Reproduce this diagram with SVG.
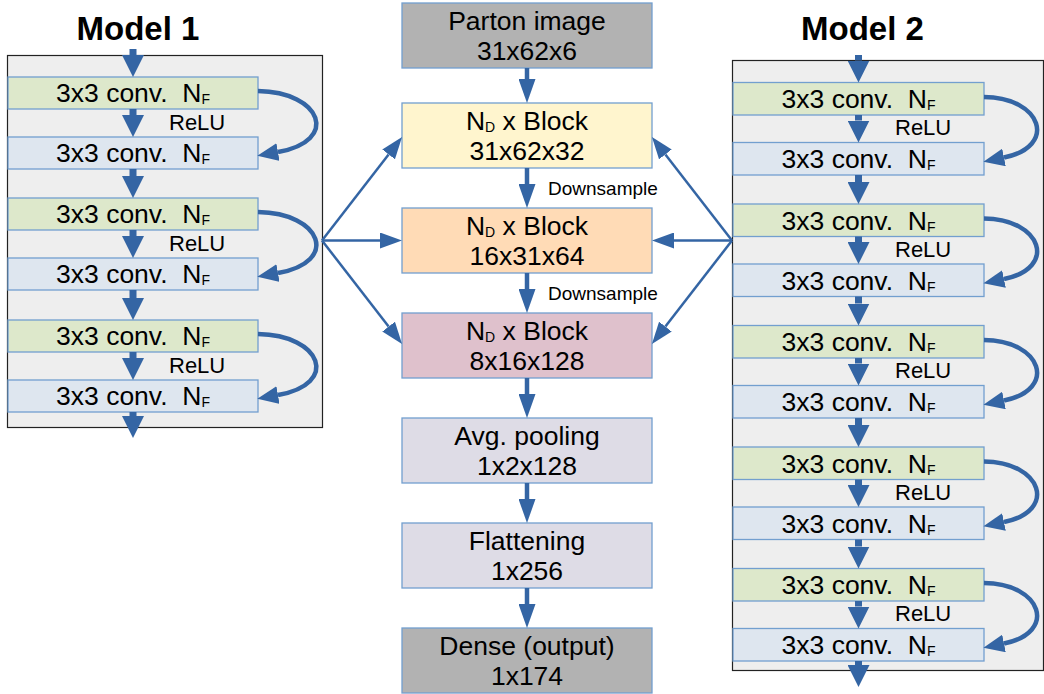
<svg xmlns="http://www.w3.org/2000/svg" width="1044" height="694" viewBox="0 0 1044 694">
<defs>
<style>
text{font-family:"Liberation Sans",Arial,sans-serif;fill:#000;white-space:pre}
.t{font-size:26.5px;text-anchor:middle}
.sub{font-size:14px}
.relu{font-size:22px}
.ds{font-size:19px}
.title{font-size:33px;font-weight:bold;text-anchor:middle}
.panel{fill:#eeeeee;stroke:#222;stroke-width:1.2}
.box{stroke:#729fcf;stroke-width:1.3}
.g{fill:#dde8cb}
.b{fill:#dee6ef}
.vm{stroke:#3465a4;stroke-width:7;fill:none;marker-end:url(#mh)}
.vc{stroke:#3465a4;stroke-width:4.5;fill:none;marker-end:url(#mc)}
.fan{stroke:#3465a4;stroke-width:2.5;fill:none;marker-end:url(#mf)}
.cur{stroke:#3465a4;stroke-width:4.5;fill:none;marker-end:url(#mr)}
</style>
<marker id="mh" markerUnits="userSpaceOnUse" markerWidth="22" markerHeight="22" viewBox="0 0 22 22" refX="0" refY="11" orient="auto"><path d="M0,0 L22,11 L0,22z" fill="#3465a4"/></marker>
<marker id="mc" markerUnits="userSpaceOnUse" markerWidth="24" markerHeight="17" viewBox="0 0 24 17" refX="0" refY="8.5" orient="auto"><path d="M0,0 L24,8.5 L0,17z" fill="#3465a4"/></marker>
<marker id="mf" markerUnits="userSpaceOnUse" markerWidth="22" markerHeight="16" viewBox="0 0 22 16" refX="0" refY="8" orient="auto"><path d="M0,0 L22,8 L0,16z" fill="#3465a4"/></marker>
<marker id="mr" markerUnits="userSpaceOnUse" markerWidth="21" markerHeight="18" viewBox="0 0 21 18" refX="0" refY="9" orient="auto"><path d="M0,0 L21,9 L0,18z" fill="#3465a4"/></marker>
</defs>
<rect width="1044" height="694" fill="#fff"/>

<g id="model1">
<text class="title" x="138" y="40">Model 1</text>
<rect class="panel" x="7.5" y="55.5" width="315" height="372"/>
<g id="m1-g1"><rect class="box g" x="8" y="77" width="250" height="32"/><text class="t" x="133" y="102">3x3 conv.  N<tspan class="sub" dy="2">F</tspan></text></g>
<g id="m1-b1"><rect class="box b" x="8" y="137" width="250" height="32"/><text class="t" x="133" y="162">3x3 conv.  N<tspan class="sub" dy="2">F</tspan></text></g>
<g id="m1-g2"><rect class="box g" x="8" y="198" width="250" height="32"/><text class="t" x="133" y="223">3x3 conv.  N<tspan class="sub" dy="2">F</tspan></text></g>
<g id="m1-b2"><rect class="box b" x="8" y="258" width="250" height="32"/><text class="t" x="133" y="283">3x3 conv.  N<tspan class="sub" dy="2">F</tspan></text></g>
<g id="m1-g3"><rect class="box g" x="8" y="320" width="250" height="32"/><text class="t" x="133" y="345">3x3 conv.  N<tspan class="sub" dy="2">F</tspan></text></g>
<g id="m1-b3"><rect class="box b" x="8" y="380" width="250" height="32"/><text class="t" x="133" y="405">3x3 conv.  N<tspan class="sub" dy="2">F</tspan></text></g>
<text class="relu" x="169" y="129.5">ReLU</text>
<text class="relu" x="169" y="251">ReLU</text>
<text class="relu" x="169" y="373">ReLU</text>
</g>

<g id="model2">
<text class="title" x="862.5" y="40">Model 2</text>
<rect class="panel" x="732.5" y="60.5" width="311" height="610"/>
<g id="m2-g1"><rect class="box g" x="733" y="82.5" width="251" height="32.5"/><text class="t" x="858.5" y="108">3x3 conv.  N<tspan class="sub" dy="2">F</tspan></text></g>
<g id="m2-b1"><rect class="box b" x="733" y="142.5" width="251" height="32.5"/><text class="t" x="858.5" y="168">3x3 conv.  N<tspan class="sub" dy="2">F</tspan></text></g>
<g id="m2-g2"><rect class="box g" x="733" y="204" width="251" height="32.5"/><text class="t" x="858.5" y="229.5">3x3 conv.  N<tspan class="sub" dy="2">F</tspan></text></g>
<g id="m2-b2"><rect class="box b" x="733" y="264" width="251" height="32.5"/><text class="t" x="858.5" y="289.5">3x3 conv.  N<tspan class="sub" dy="2">F</tspan></text></g>
<g id="m2-g3"><rect class="box g" x="733" y="325.5" width="251" height="32.5"/><text class="t" x="858.5" y="351">3x3 conv.  N<tspan class="sub" dy="2">F</tspan></text></g>
<g id="m2-b3"><rect class="box b" x="733" y="385.5" width="251" height="32.5"/><text class="t" x="858.5" y="411">3x3 conv.  N<tspan class="sub" dy="2">F</tspan></text></g>
<g id="m2-g4"><rect class="box g" x="733" y="447" width="251" height="32.5"/><text class="t" x="858.5" y="472.5">3x3 conv.  N<tspan class="sub" dy="2">F</tspan></text></g>
<g id="m2-b4"><rect class="box b" x="733" y="507" width="251" height="32.5"/><text class="t" x="858.5" y="532.5">3x3 conv.  N<tspan class="sub" dy="2">F</tspan></text></g>
<g id="m2-g5"><rect class="box g" x="733" y="568.5" width="251" height="32.5"/><text class="t" x="858.5" y="594">3x3 conv.  N<tspan class="sub" dy="2">F</tspan></text></g>
<g id="m2-b5"><rect class="box b" x="733" y="628.5" width="251" height="32.5"/><text class="t" x="858.5" y="654">3x3 conv.  N<tspan class="sub" dy="2">F</tspan></text></g>
<text class="relu" x="895" y="135">ReLU</text>
<text class="relu" x="895" y="256.5">ReLU</text>
<text class="relu" x="895" y="378">ReLU</text>
<text class="relu" x="895" y="499.5">ReLU</text>
<text class="relu" x="895" y="621">ReLU</text>
</g>

<g id="parton"><rect class="box" fill="#b2b2b2" x="402" y="3" width="250" height="65"/><text class="t" x="527" y="29.5">Parton image</text><text class="t" x="527" y="60">31x62x6</text></g>
<g id="block1"><rect class="box" fill="#fff5ce" x="402" y="103" width="250" height="65"/><text class="t" x="527" y="129.5">N<tspan class="sub" dy="2">D</tspan><tspan dy="-2"> x Block</tspan></text><text class="t" x="527" y="160">31x62x32</text></g>
<g id="block2"><rect class="box" fill="#ffdbb6" x="402" y="208" width="250" height="65"/><text class="t" x="527" y="234.5">N<tspan class="sub" dy="2">D</tspan><tspan dy="-2"> x Block</tspan></text><text class="t" x="527" y="265">16x31x64</text></g>
<g id="block3"><rect class="box" fill="#dfc1cc" x="402" y="313" width="250" height="65"/><text class="t" x="527" y="339.5">N<tspan class="sub" dy="2">D</tspan><tspan dy="-2"> x Block</tspan></text><text class="t" x="527" y="370">8x16x128</text></g>
<g id="avgpool"><rect class="box" fill="#dedce6" x="402" y="418" width="250" height="65"/><text class="t" x="527" y="444.5">Avg. pooling</text><text class="t" x="527" y="475">1x2x128</text></g>
<g id="flatten"><rect class="box" fill="#dedce6" x="402" y="523" width="250" height="65"/><text class="t" x="527" y="549.5">Flattening</text><text class="t" x="527" y="580">1x256</text></g>
<g id="dense"><rect class="box" fill="#b2b2b2" x="402" y="628" width="250" height="65"/><text class="t" x="527" y="654.5">Dense (output)</text><text class="t" x="527" y="685">1x174</text></g>
<text class="ds" x="548" y="195">Downsample</text>
<text class="ds" x="548" y="300">Downsample</text>

<g id="connectors">
<path class="vm" d="M133,49 V55"/>
<path class="vm" d="M133,109 V115"/>
<path class="vm" d="M133,169 V176"/>
<path class="vm" d="M133,230 V236"/>
<path class="vm" d="M133,290 V298"/>
<path class="vm" d="M133,352 V358"/>
<path class="vm" d="M133,412 V416"/>
<path class="vm" d="M858.5,55 V60.5"/>
<path class="vm" d="M858.5,115 V120.5"/>
<path class="vm" d="M858.5,175 V182"/>
<path class="vm" d="M858.5,236.5 V242"/>
<path class="vm" d="M858.5,296.5 V303.5"/>
<path class="vm" d="M858.5,358 V363.5"/>
<path class="vm" d="M858.5,418 V425"/>
<path class="vm" d="M858.5,479.5 V485"/>
<path class="vm" d="M858.5,539.5 V546.5"/>
<path class="vm" d="M858.5,601 V606.5"/>
<path class="vm" d="M858.5,661 V665"/>
<path class="cur" transform="translate(0,77)" d="M258,14 C322,15 340,64 278,75"/>
<path class="cur" transform="translate(0,198)" d="M258,14 C322,15 340,64 278,75"/>
<path class="cur" transform="translate(0,320)" d="M258,14 C322,15 340,64 278,75"/>
<path class="cur" transform="translate(0,82.5)" d="M984,14.5 C1042,15 1058,64 1004,75"/>
<path class="cur" transform="translate(0,204)" d="M984,14.5 C1042,15 1058,64 1004,75"/>
<path class="cur" transform="translate(0,325.5)" d="M984,14.5 C1042,15 1058,64 1004,75"/>
<path class="cur" transform="translate(0,447)" d="M984,14.5 C1042,15 1058,64 1004,75"/>
<path class="cur" transform="translate(0,568.5)" d="M984,14.5 C1042,15 1058,64 1004,75"/>
<path class="vc" d="M527,68 V79"/>
<path class="vc" d="M527,168 V184"/>
<path class="vc" d="M527,273 V289"/>
<path class="vc" d="M527,378 V394"/>
<path class="vc" d="M527,483 V499"/>
<path class="vc" d="M527,588 V604"/>
<path class="fan" d="M322,240.5 L388.6,154.4"/>
<path class="fan" d="M322,240.5 L380,240.5"/>
<path class="fan" d="M322,240.5 L388.6,326.6"/>
<path class="fan" d="M732,240.5 L665.4,154.4"/>
<path class="fan" d="M732,240.5 L674,240.5"/>
<path class="fan" d="M732,240.5 L665.4,326.6"/>
</g>
</svg>
